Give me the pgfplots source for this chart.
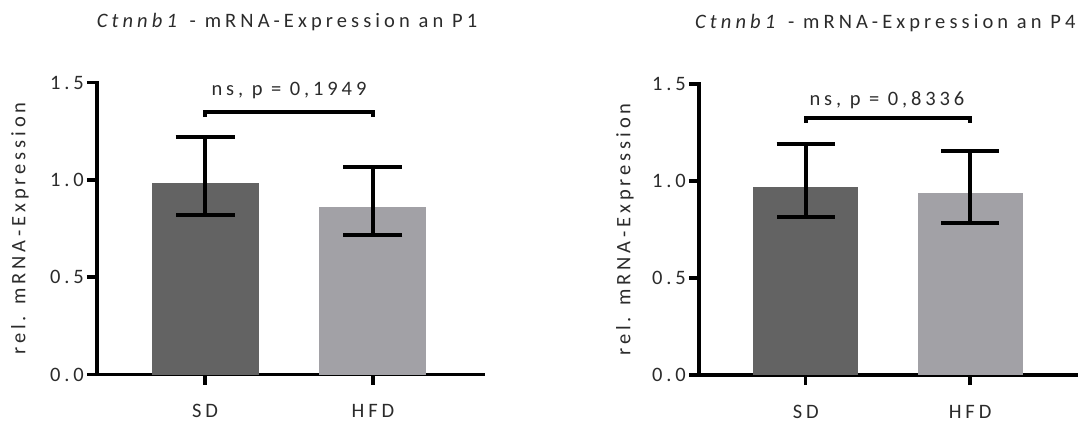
\documentclass[border=0pt]{standalone}
\usepackage{fontspec}
\setmainfont{Carlito}[LetterSpace=19]
\newfontfamily\titlefont{Carlito}[LetterSpace=20]
\usepackage{pgfplots}
\pgfplotsset{compat=1.18}
\definecolor{sdcol}{HTML}{636363}
\definecolor{hfdcol}{HTML}{A2A1A6}
\definecolor{txt}{HTML}{2B2B2B}
\newcommand\lab{\fontsize{20.5bp}{24bp}\selectfont}
\newcommand\tlab{\titlefont\fontsize{20.5bp}{25bp}\selectfont}
\pgfplotsset{
  gpstyle/.style={
    scale only axis,
    anchor=south west,
    ymin=0, ymax=1.5,
    axis lines*=left,
    axis line style={line width=3.5bp, line cap=rect, black},
    tick align=outside,
    major tick length=10bp,
    tick style={line width=3.5bp, black},
    xtick={0,1}, xticklabels={SD,HFD},
    ytick={0,0.5,1,1.5}, yticklabels={0.0,0.5,1.0,1.5},
    tick label style={font=\lab, text=txt},
    xticklabel style={anchor=base, yshift=-33bp},
    yticklabel style={anchor=east, inner sep=0pt, xshift=-3bp},
    ylabel={rel. mRNA-Expression},
    every axis y label/.style={rotate=90, anchor=center, font=\lab, text=txt},
    every axis title/.style={at={(0.5,1)}, anchor=base, yshift=55bp, font=\tlab, text=txt},
    clip=false,
    error bars/error bar style={line width=4bp, black},
  },
}
\begin{document}
\begin{tikzpicture}
\path[use as bounding box] (0,0) rectangle (1078bp,421bp);
% ---------- left panel: P1 ----------
\begin{axis}[gpstyle,
  at={(97bp,46.5bp)}, width=386bp, height=292bp,
  xmin=-0.643, xmax=1.655,
  ylabel style={at={(axis description cs:-0.1995,0.5)}},
  title={\textit{Ctnnb1} - mRNA-Expression an P1},
  title style={xshift=-3bp},
  error bars/error mark options={rotate=90, mark size=29.5bp, line width=4bp, black},
]
\addplot[ybar, bar width=107bp, bar shift=0pt, fill=sdcol, draw=none,
  error bars/.cd, y dir=both, y explicit]
  coordinates {(0,0.986) += (0,0.234) -= (0,0.166)};
\addplot[ybar, bar width=107bp, bar shift=0pt, fill=hfdcol, draw=none,
  error bars/.cd, y dir=both, y explicit]
  coordinates {(1,0.861) += (0,0.207) -= (0,0.144)};
\addplot[line width=4bp, black, mark=none, line join=miter, forget plot]
  coordinates {(0,1.322) (0,1.346) (1,1.346) (1,1.322)};
\node[font=\lab, text=txt, anchor=base] at (axis cs:0.5,1.432) {ns, p = 0,1949};
\end{axis}
% ---------- right panel: P4 ----------
\begin{axis}[gpstyle,
  at={(699bp,46bp)}, width=378bp, height=291bp,
  xmin=-0.649, xmax=1.65,
  ylabel style={at={(axis description cs:-0.196,0.5)}},
  title={\textit{Ctnnb1} - mRNA-Expression an P4},
  title style={at={(1,1)}, anchor=base east, xshift=2bp},
  error bars/error mark options={rotate=90, mark size=29bp, line width=4bp, black},
]
\addplot[ybar, bar width=105bp, bar shift=0pt, fill=sdcol, draw=none,
  error bars/.cd, y dir=both, y explicit]
  coordinates {(0,0.971) += (0,0.219) -= (0,0.155)};
\addplot[ybar, bar width=105bp, bar shift=0pt, fill=hfdcol, draw=none,
  error bars/.cd, y dir=both, y explicit]
  coordinates {(1,0.936) += (0,0.220) -= (0,0.151)};
\addplot[line width=4bp, black, mark=none, line join=miter, forget plot]
  coordinates {(0,1.300) (0,1.323) (1,1.323) (1,1.300)};
\node[font=\lab, text=txt, anchor=base] at (axis cs:0.494,1.387) {ns, p = 0,8336};
\end{axis}
\end{tikzpicture}
\end{document}
